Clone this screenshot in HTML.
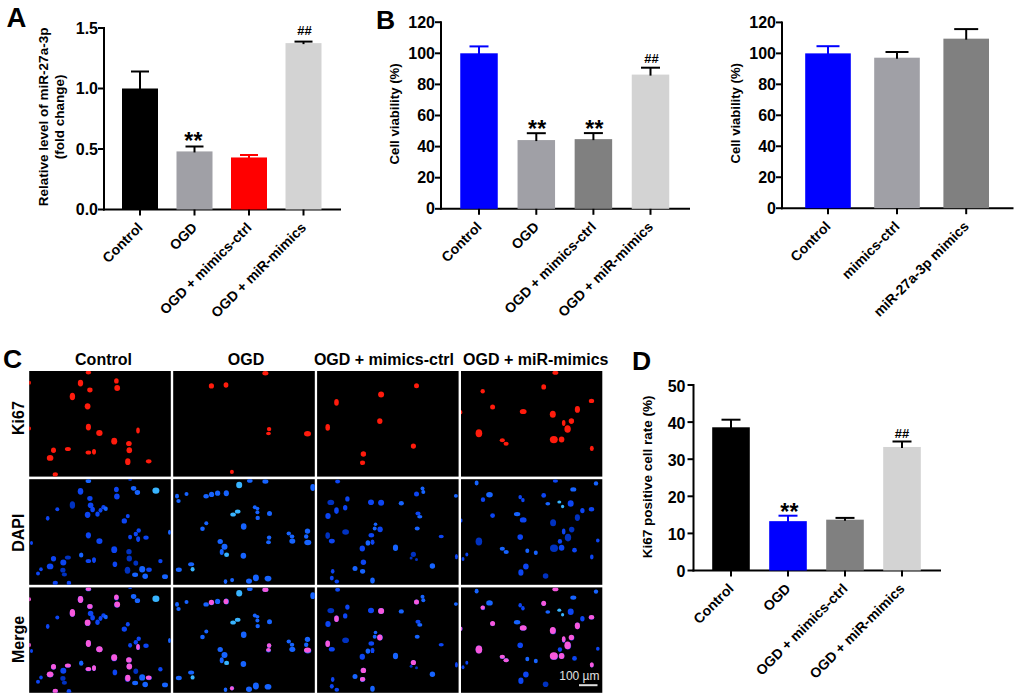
<!DOCTYPE html><html><head><meta charset="utf-8"><style>html,body{margin:0;padding:0;background:#fff;width:1020px;height:699px;overflow:hidden}</style></head><body><svg width="1020" height="699" viewBox="0 0 1020 699" style="position:absolute;left:0;top:0">
<g font-family='"Liberation Sans", sans-serif'>
<text x="6.50" y="27.00" font-size="27.5" font-weight="bold" text-anchor="start" fill="#000" >A</text>
<text x="376.00" y="29.00" font-size="26.5" font-weight="bold" text-anchor="start" fill="#000" >B</text>
<text x="3.00" y="367.50" font-size="26.5" font-weight="bold" text-anchor="start" fill="#000" >C</text>
<text x="632.00" y="369.50" font-size="26.5" font-weight="bold" text-anchor="start" fill="#000" >D</text>
<line x1="104" y1="27" x2="104" y2="210.5" stroke="#000" stroke-width="2"/>
<line x1="103" y1="209.5" x2="341" y2="209.5" stroke="#000" stroke-width="2"/>
<line x1="98" y1="209.50" x2="104" y2="209.50" stroke="#000" stroke-width="2"/>
<text x="98.00" y="215.00" font-size="16" font-weight="bold" text-anchor="end" fill="#000" >0.0</text>
<line x1="98" y1="149.00" x2="104" y2="149.00" stroke="#000" stroke-width="2"/>
<text x="98.00" y="154.50" font-size="16" font-weight="bold" text-anchor="end" fill="#000" >0.5</text>
<line x1="98" y1="88.50" x2="104" y2="88.50" stroke="#000" stroke-width="2"/>
<text x="98.00" y="94.00" font-size="16" font-weight="bold" text-anchor="end" fill="#000" >1.0</text>
<line x1="98" y1="28.00" x2="104" y2="28.00" stroke="#000" stroke-width="2"/>
<text x="98.00" y="33.50" font-size="16" font-weight="bold" text-anchor="end" fill="#000" >1.5</text>
<rect x="122.00" y="88.50" width="36.00" height="121.00" fill="#000"/>
<line x1="140.00" y1="209.5" x2="140.00" y2="215.5" stroke="#000" stroke-width="2"/>
<line x1="140.00" y1="89.50" x2="140.00" y2="71.50" stroke="#000" stroke-width="2"/>
<line x1="131.00" y1="71.50" x2="149.00" y2="71.50" stroke="#000" stroke-width="2"/>
<rect x="176.50" y="151.42" width="36.00" height="58.08" fill="#a0a0a6"/>
<line x1="194.50" y1="209.5" x2="194.50" y2="215.5" stroke="#000" stroke-width="2"/>
<line x1="194.50" y1="152.42" x2="194.50" y2="146.50" stroke="#000" stroke-width="2"/>
<line x1="185.50" y1="146.50" x2="203.50" y2="146.50" stroke="#000" stroke-width="2"/>
<text x="193.50" y="149.20" font-size="23" font-weight="bold" text-anchor="middle" letter-spacing="0.3">**</text>
<rect x="231.00" y="157.47" width="36.00" height="52.03" fill="#ff0000"/>
<line x1="249.00" y1="209.5" x2="249.00" y2="215.5" stroke="#000" stroke-width="2"/>
<line x1="249.00" y1="158.47" x2="249.00" y2="155.00" stroke="#ff0000" stroke-width="2"/>
<line x1="240.00" y1="155.00" x2="258.00" y2="155.00" stroke="#ff0000" stroke-width="2"/>
<rect x="285.50" y="43.12" width="36.00" height="166.38" fill="#d3d3d3"/>
<line x1="303.50" y1="209.5" x2="303.50" y2="215.5" stroke="#000" stroke-width="2"/>
<line x1="303.50" y1="44.12" x2="303.50" y2="41.60" stroke="#000" stroke-width="2"/>
<line x1="294.50" y1="41.60" x2="312.50" y2="41.60" stroke="#000" stroke-width="2"/>
<text x="304.50" y="34.70" font-size="13" font-weight="bold" text-anchor="middle">##</text>
<text transform="translate(47.7,116.9) rotate(-90)" font-size="13.5" font-weight="bold" text-anchor="middle">Relative level of miR-27a-3p</text>
<text transform="translate(63.8,116.9) rotate(-90)" font-size="13.5" font-weight="bold" text-anchor="middle">(fold change)</text>
<text transform="translate(143.50,228.50) rotate(-45)" font-size="14" font-weight="bold" text-anchor="end">Control</text>
<text transform="translate(198.00,228.50) rotate(-45)" font-size="14" font-weight="bold" text-anchor="end">OGD</text>
<text transform="translate(252.50,228.50) rotate(-45)" font-size="14" font-weight="bold" text-anchor="end">OGD + mimics-ctrl</text>
<text transform="translate(307.00,228.50) rotate(-45)" font-size="14" font-weight="bold" text-anchor="end">OGD + miR-mimics</text>
<line x1="441" y1="21.2" x2="441" y2="209.8" stroke="#000" stroke-width="2"/>
<line x1="440" y1="208.8" x2="690" y2="208.8" stroke="#000" stroke-width="2"/>
<line x1="435" y1="208.80" x2="441" y2="208.80" stroke="#000" stroke-width="2"/>
<text x="435.00" y="214.30" font-size="16" font-weight="bold" text-anchor="end" fill="#000" >0</text>
<line x1="435" y1="177.70" x2="441" y2="177.70" stroke="#000" stroke-width="2"/>
<text x="435.00" y="183.20" font-size="16" font-weight="bold" text-anchor="end" fill="#000" >20</text>
<line x1="435" y1="146.60" x2="441" y2="146.60" stroke="#000" stroke-width="2"/>
<text x="435.00" y="152.10" font-size="16" font-weight="bold" text-anchor="end" fill="#000" >40</text>
<line x1="435" y1="115.50" x2="441" y2="115.50" stroke="#000" stroke-width="2"/>
<text x="435.00" y="121.00" font-size="16" font-weight="bold" text-anchor="end" fill="#000" >60</text>
<line x1="435" y1="84.40" x2="441" y2="84.40" stroke="#000" stroke-width="2"/>
<text x="435.00" y="89.90" font-size="16" font-weight="bold" text-anchor="end" fill="#000" >80</text>
<line x1="435" y1="53.30" x2="441" y2="53.30" stroke="#000" stroke-width="2"/>
<text x="435.00" y="58.80" font-size="16" font-weight="bold" text-anchor="end" fill="#000" >100</text>
<line x1="435" y1="22.20" x2="441" y2="22.20" stroke="#000" stroke-width="2"/>
<text x="435.00" y="27.70" font-size="16" font-weight="bold" text-anchor="end" fill="#000" >120</text>
<rect x="460.25" y="53.30" width="37.50" height="155.50" fill="#0000ff"/>
<line x1="479.00" y1="208.8" x2="479.00" y2="214.8" stroke="#000" stroke-width="2"/>
<line x1="479.00" y1="54.30" x2="479.00" y2="46.40" stroke="#0000ff" stroke-width="2"/>
<line x1="469.50" y1="46.40" x2="488.50" y2="46.40" stroke="#0000ff" stroke-width="2"/>
<rect x="517.55" y="140.07" width="37.50" height="68.73" fill="#a0a0a6"/>
<line x1="536.30" y1="208.8" x2="536.30" y2="214.8" stroke="#000" stroke-width="2"/>
<line x1="536.30" y1="141.07" x2="536.30" y2="133.20" stroke="#000" stroke-width="2"/>
<line x1="526.80" y1="133.20" x2="545.80" y2="133.20" stroke="#000" stroke-width="2"/>
<text x="537.20" y="137.10" font-size="23" font-weight="bold" text-anchor="middle" letter-spacing="0.3">**</text>
<rect x="574.65" y="139.14" width="37.50" height="69.66" fill="#808080"/>
<line x1="593.40" y1="208.8" x2="593.40" y2="214.8" stroke="#000" stroke-width="2"/>
<line x1="593.40" y1="140.14" x2="593.40" y2="133.10" stroke="#000" stroke-width="2"/>
<line x1="583.90" y1="133.10" x2="602.90" y2="133.10" stroke="#000" stroke-width="2"/>
<text x="594.50" y="137.30" font-size="23" font-weight="bold" text-anchor="middle" letter-spacing="0.3">**</text>
<rect x="631.75" y="74.60" width="37.50" height="134.20" fill="#d3d3d3"/>
<line x1="650.50" y1="208.8" x2="650.50" y2="214.8" stroke="#000" stroke-width="2"/>
<line x1="650.50" y1="75.60" x2="650.50" y2="67.70" stroke="#000" stroke-width="2"/>
<line x1="641.00" y1="67.70" x2="660.00" y2="67.70" stroke="#000" stroke-width="2"/>
<text x="651.50" y="62.80" font-size="13" font-weight="bold" text-anchor="middle">##</text>
<text transform="translate(398.5,113.9) rotate(-90)" font-size="13.2" font-weight="bold" text-anchor="middle">Cell viability (%)</text>
<text transform="translate(482.50,227.80) rotate(-45)" font-size="14" font-weight="bold" text-anchor="end">Control</text>
<text transform="translate(539.80,227.80) rotate(-45)" font-size="14" font-weight="bold" text-anchor="end">OGD</text>
<text transform="translate(596.90,227.80) rotate(-45)" font-size="14" font-weight="bold" text-anchor="end">OGD + mimics-ctrl</text>
<text transform="translate(654.00,227.80) rotate(-45)" font-size="14" font-weight="bold" text-anchor="end">OGD + miR-mimics</text>
<line x1="782" y1="21.4" x2="782" y2="209.2" stroke="#000" stroke-width="2"/>
<line x1="781" y1="208.2" x2="1013.5" y2="208.2" stroke="#000" stroke-width="2"/>
<line x1="776" y1="208.20" x2="782" y2="208.20" stroke="#000" stroke-width="2"/>
<text x="776.00" y="213.70" font-size="16" font-weight="bold" text-anchor="end" fill="#000" >0</text>
<line x1="776" y1="177.23" x2="782" y2="177.23" stroke="#000" stroke-width="2"/>
<text x="776.00" y="182.73" font-size="16" font-weight="bold" text-anchor="end" fill="#000" >20</text>
<line x1="776" y1="146.27" x2="782" y2="146.27" stroke="#000" stroke-width="2"/>
<text x="776.00" y="151.77" font-size="16" font-weight="bold" text-anchor="end" fill="#000" >40</text>
<line x1="776" y1="115.30" x2="782" y2="115.30" stroke="#000" stroke-width="2"/>
<text x="776.00" y="120.80" font-size="16" font-weight="bold" text-anchor="end" fill="#000" >60</text>
<line x1="776" y1="84.33" x2="782" y2="84.33" stroke="#000" stroke-width="2"/>
<text x="776.00" y="89.83" font-size="16" font-weight="bold" text-anchor="end" fill="#000" >80</text>
<line x1="776" y1="53.37" x2="782" y2="53.37" stroke="#000" stroke-width="2"/>
<text x="776.00" y="58.87" font-size="16" font-weight="bold" text-anchor="end" fill="#000" >100</text>
<line x1="776" y1="22.40" x2="782" y2="22.40" stroke="#000" stroke-width="2"/>
<text x="776.00" y="27.90" font-size="16" font-weight="bold" text-anchor="end" fill="#000" >120</text>
<rect x="805.20" y="53.37" width="45.60" height="154.83" fill="#0000ff"/>
<line x1="828.00" y1="208.2" x2="828.00" y2="214.2" stroke="#000" stroke-width="2"/>
<line x1="828.00" y1="54.37" x2="828.00" y2="46.20" stroke="#0000ff" stroke-width="2"/>
<line x1="816.50" y1="46.20" x2="839.50" y2="46.20" stroke="#0000ff" stroke-width="2"/>
<rect x="874.20" y="57.70" width="45.60" height="150.50" fill="#a0a0a6"/>
<line x1="897.00" y1="208.2" x2="897.00" y2="214.2" stroke="#000" stroke-width="2"/>
<line x1="897.00" y1="58.70" x2="897.00" y2="52.00" stroke="#000" stroke-width="2"/>
<line x1="885.50" y1="52.00" x2="908.50" y2="52.00" stroke="#000" stroke-width="2"/>
<rect x="943.40" y="38.66" width="45.60" height="169.54" fill="#808080"/>
<line x1="966.20" y1="208.2" x2="966.20" y2="214.2" stroke="#000" stroke-width="2"/>
<line x1="966.20" y1="39.66" x2="966.20" y2="29.10" stroke="#000" stroke-width="2"/>
<line x1="954.20" y1="29.10" x2="978.20" y2="29.10" stroke="#000" stroke-width="2"/>
<text transform="translate(739.5,113.3) rotate(-90)" font-size="13.1" font-weight="bold" text-anchor="middle">Cell viability (%)</text>
<text transform="translate(831.50,227.20) rotate(-45)" font-size="14" font-weight="bold" text-anchor="end">Control</text>
<text transform="translate(900.50,227.20) rotate(-45)" font-size="14" font-weight="bold" text-anchor="end">mimics-ctrl</text>
<text transform="translate(969.70,227.20) rotate(-45)" font-size="14" font-weight="bold" text-anchor="end">miR-27a-3p mimics</text>
<line x1="693.5" y1="384" x2="693.5" y2="571.5" stroke="#000" stroke-width="2"/>
<line x1="692.5" y1="570.5" x2="941" y2="570.5" stroke="#000" stroke-width="2"/>
<line x1="687.5" y1="570.50" x2="693.5" y2="570.50" stroke="#000" stroke-width="2"/>
<text x="685.50" y="577.00" font-size="16" font-weight="bold" text-anchor="end" fill="#000" >0</text>
<line x1="687.5" y1="533.40" x2="693.5" y2="533.40" stroke="#000" stroke-width="2"/>
<text x="685.50" y="539.90" font-size="16" font-weight="bold" text-anchor="end" fill="#000" >10</text>
<line x1="687.5" y1="496.30" x2="693.5" y2="496.30" stroke="#000" stroke-width="2"/>
<text x="685.50" y="502.80" font-size="16" font-weight="bold" text-anchor="end" fill="#000" >20</text>
<line x1="687.5" y1="459.20" x2="693.5" y2="459.20" stroke="#000" stroke-width="2"/>
<text x="685.50" y="465.70" font-size="16" font-weight="bold" text-anchor="end" fill="#000" >30</text>
<line x1="687.5" y1="422.10" x2="693.5" y2="422.10" stroke="#000" stroke-width="2"/>
<text x="685.50" y="428.60" font-size="16" font-weight="bold" text-anchor="end" fill="#000" >40</text>
<line x1="687.5" y1="385.00" x2="693.5" y2="385.00" stroke="#000" stroke-width="2"/>
<text x="685.50" y="391.50" font-size="16" font-weight="bold" text-anchor="end" fill="#000" >50</text>
<rect x="712.20" y="427.29" width="37.60" height="143.21" fill="#000"/>
<line x1="731.00" y1="570.5" x2="731.00" y2="576.5" stroke="#000" stroke-width="2"/>
<line x1="731.00" y1="428.29" x2="731.00" y2="419.70" stroke="#000" stroke-width="2"/>
<line x1="721.50" y1="419.70" x2="740.50" y2="419.70" stroke="#000" stroke-width="2"/>
<rect x="769.20" y="521.16" width="37.60" height="49.34" fill="#0000ff"/>
<line x1="788.00" y1="570.5" x2="788.00" y2="576.5" stroke="#000" stroke-width="2"/>
<line x1="788.00" y1="522.16" x2="788.00" y2="515.70" stroke="#0000ff" stroke-width="2"/>
<line x1="778.50" y1="515.70" x2="797.50" y2="515.70" stroke="#0000ff" stroke-width="2"/>
<text x="789.50" y="519.50" font-size="23" font-weight="bold" text-anchor="middle" letter-spacing="0.3">**</text>
<rect x="826.20" y="519.67" width="37.60" height="50.83" fill="#808080"/>
<line x1="845.00" y1="570.5" x2="845.00" y2="576.5" stroke="#000" stroke-width="2"/>
<line x1="845.00" y1="520.67" x2="845.00" y2="517.90" stroke="#000" stroke-width="2"/>
<line x1="835.50" y1="517.90" x2="854.50" y2="517.90" stroke="#000" stroke-width="2"/>
<rect x="883.20" y="446.96" width="37.60" height="123.54" fill="#d3d3d3"/>
<line x1="902.00" y1="570.5" x2="902.00" y2="576.5" stroke="#000" stroke-width="2"/>
<line x1="902.00" y1="447.96" x2="902.00" y2="441.50" stroke="#000" stroke-width="2"/>
<line x1="892.50" y1="441.50" x2="911.50" y2="441.50" stroke="#000" stroke-width="2"/>
<text x="902.00" y="437.50" font-size="13" font-weight="bold" text-anchor="middle">##</text>
<text transform="translate(652,476.9) rotate(-90)" font-size="13.5" font-weight="bold" text-anchor="middle">Ki67 positive cell rate (%)</text>
<text transform="translate(734.50,589.50) rotate(-45)" font-size="14" font-weight="bold" text-anchor="end">Control</text>
<text transform="translate(791.50,589.50) rotate(-45)" font-size="14" font-weight="bold" text-anchor="end">OGD</text>
<text transform="translate(848.50,589.50) rotate(-45)" font-size="14" font-weight="bold" text-anchor="end">OGD + mimics-ctrl</text>
<text transform="translate(905.50,589.50) rotate(-45)" font-size="14" font-weight="bold" text-anchor="end">OGD + miR-mimics</text>
<defs><filter id="bl" x="-20%" y="-20%" width="140%" height="140%"><feGaussianBlur stdDeviation="0.45"/></filter>
<clipPath id="c00"><rect x="29.2" y="371" width="141.60" height="105.60"/></clipPath>
<clipPath id="c01"><rect x="29.2" y="479.2" width="141.60" height="105.60"/></clipPath>
<clipPath id="c02"><rect x="29.2" y="587.4" width="141.60" height="105.40"/></clipPath>
<clipPath id="c10"><rect x="173.2" y="371" width="141.60" height="105.60"/></clipPath>
<clipPath id="c11"><rect x="173.2" y="479.2" width="141.60" height="105.60"/></clipPath>
<clipPath id="c12"><rect x="173.2" y="587.4" width="141.60" height="105.40"/></clipPath>
<clipPath id="c20"><rect x="317.1" y="371" width="141.50" height="105.60"/></clipPath>
<clipPath id="c21"><rect x="317.1" y="479.2" width="141.50" height="105.60"/></clipPath>
<clipPath id="c22"><rect x="317.1" y="587.4" width="141.50" height="105.40"/></clipPath>
<clipPath id="c30"><rect x="461" y="371" width="141.30" height="105.60"/></clipPath>
<clipPath id="c31"><rect x="461" y="479.2" width="141.30" height="105.60"/></clipPath>
<clipPath id="c32"><rect x="461" y="587.4" width="141.30" height="105.40"/></clipPath>
</defs>
<rect x="29.2" y="371" width="141.60" height="105.60" fill="#000"/>
<g clip-path="url(#c00)"><g filter="url(#bl)">
<ellipse cx="88.4" cy="372.5" rx="2.7" ry="2" fill="#ff1a0a"/>
<ellipse cx="80.5" cy="383.1" rx="2.7" ry="3.4" fill="#ff1a0a"/>
<ellipse cx="89.9" cy="390.0" rx="2.7" ry="2.4" fill="#ff1a0a"/>
<ellipse cx="72.4" cy="396.5" rx="2.7" ry="3.8" fill="#ff1a0a"/>
<ellipse cx="87.6" cy="406.3" rx="2.9" ry="3.1" fill="#ff1a0a"/>
<ellipse cx="116.4" cy="380.9" rx="2.3" ry="2.7" fill="#ff1a0a"/>
<ellipse cx="117.2" cy="388.0" rx="2.9" ry="3" fill="#ff1a0a"/>
<ellipse cx="88.4" cy="427.1" rx="2.6" ry="3.4" fill="#ff1a0a"/>
<ellipse cx="99.4" cy="432.9" rx="3.2" ry="3" fill="#ff1a0a"/>
<ellipse cx="114.2" cy="441.2" rx="3" ry="3.4" fill="#ff1a0a"/>
<ellipse cx="138.0" cy="430.5" rx="1.8" ry="2.9" fill="#ff1a0a"/>
<ellipse cx="128.9" cy="443.5" rx="2.8" ry="2.6" fill="#ff1a0a"/>
<ellipse cx="129.3" cy="450.2" rx="2.8" ry="3" fill="#ff1a0a"/>
<ellipse cx="127.8" cy="461.7" rx="2.7" ry="3.4" fill="#ff1a0a"/>
<ellipse cx="148.7" cy="461.3" rx="2.8" ry="2.1" fill="#ff1a0a"/>
<ellipse cx="53.5" cy="450.3" rx="2.5" ry="2.7" fill="#ff1a0a"/>
<ellipse cx="67.9" cy="449.1" rx="3" ry="2" fill="#ff1a0a"/>
<ellipse cx="50.1" cy="457.9" rx="3.3" ry="2.9" fill="#ff1a0a"/>
<ellipse cx="88.4" cy="452.6" rx="2.8" ry="2" fill="#ff1a0a"/>
<ellipse cx="94.0" cy="451.7" rx="2" ry="2.8" fill="#ff1a0a"/>
<ellipse cx="55.3" cy="474.6" rx="2.6" ry="2.3" fill="#ff1a0a"/>
<ellipse cx="29.7" cy="382.8" rx="1.2" ry="2" fill="#ff1a0a"/>
<ellipse cx="29.7" cy="428.6" rx="1.2" ry="2" fill="#ff1a0a"/>
</g></g>
<rect x="29.2" y="479.2" width="141.60" height="105.60" fill="#000"/>
<g clip-path="url(#c01)"><g filter="url(#bl)">
<ellipse cx="88.4" cy="481.0" rx="2.8" ry="2" fill="#1664ff"/>
<ellipse cx="80.5" cy="491.3" rx="2.8" ry="3.4" fill="#0a44f2"/>
<ellipse cx="89.9" cy="498.5" rx="2.7" ry="2.4" fill="#0a44f2"/>
<ellipse cx="72.4" cy="505.0" rx="2.7" ry="3.8" fill="#0630c0"/>
<ellipse cx="90.6" cy="505.3" rx="2.8" ry="2.8" fill="#0a44f2"/>
<ellipse cx="92.6" cy="509.5" rx="2.3" ry="2.7" fill="#0a44f2"/>
<ellipse cx="87.6" cy="514.8" rx="2.8" ry="3.1" fill="#0a44f2"/>
<ellipse cx="97.5" cy="514.1" rx="2.2" ry="2.7" fill="#0a44f2"/>
<ellipse cx="100.5" cy="510.3" rx="2" ry="2.4" fill="#0a44f2"/>
<ellipse cx="103.5" cy="507.3" rx="2.2" ry="2.2" fill="#0a44f2"/>
<ellipse cx="105.8" cy="508.8" rx="2" ry="2.2" fill="#1664ff"/>
<ellipse cx="57.3" cy="509.2" rx="2" ry="2" fill="#0a44f2"/>
<ellipse cx="47.7" cy="518.3" rx="1.8" ry="2.4" fill="#0a44f2"/>
<ellipse cx="116.4" cy="489.5" rx="2.4" ry="2.8" fill="#0a44f2"/>
<ellipse cx="116.9" cy="496.6" rx="2.8" ry="3" fill="#0a44f2"/>
<ellipse cx="133.6" cy="488.3" rx="2.7" ry="2.4" fill="#1664ff"/>
<ellipse cx="137.4" cy="492.5" rx="2.7" ry="2.4" fill="#1664ff"/>
<ellipse cx="155.9" cy="490.6" rx="3.5" ry="3.2" fill="#38b4ff"/>
<ellipse cx="127.8" cy="516.1" rx="2" ry="2.2" fill="#0a44f2"/>
<ellipse cx="124.3" cy="520.9" rx="2.7" ry="2.7" fill="#0a44f2"/>
<ellipse cx="88.4" cy="535.3" rx="2.6" ry="3.1" fill="#0a44f2"/>
<ellipse cx="99.4" cy="541.1" rx="3.1" ry="2.9" fill="#0a44f2"/>
<ellipse cx="138.7" cy="530.5" rx="2.2" ry="2.2" fill="#0a44f2"/>
<ellipse cx="135.8" cy="534.1" rx="2.2" ry="2.4" fill="#0a44f2"/>
<ellipse cx="130.1" cy="537.1" rx="2" ry="2.4" fill="#0a44f2"/>
<ellipse cx="138.1" cy="539.1" rx="2" ry="2.8" fill="#0a44f2"/>
<ellipse cx="146.0" cy="537.6" rx="2.7" ry="2.2" fill="#0a44f2"/>
<ellipse cx="169.5" cy="532.3" rx="1.5" ry="2.5" fill="#1664ff"/>
<ellipse cx="31.5" cy="542.9" rx="1.5" ry="2" fill="#0a44f2"/>
<ellipse cx="114.2" cy="549.7" rx="3" ry="3.4" fill="#0a44f2"/>
<ellipse cx="129.0" cy="551.7" rx="2.7" ry="2.6" fill="#0630c0"/>
<ellipse cx="129.3" cy="558.4" rx="2.7" ry="3" fill="#0630c0"/>
<ellipse cx="81.2" cy="555.0" rx="2.2" ry="2.6" fill="#1664ff"/>
<ellipse cx="53.5" cy="558.8" rx="2.6" ry="2.7" fill="#0a44f2"/>
<ellipse cx="67.9" cy="557.6" rx="3" ry="2" fill="#0630c0"/>
<ellipse cx="63.3" cy="562.6" rx="3" ry="3" fill="#0a44f2"/>
<ellipse cx="88.4" cy="561.1" rx="2.8" ry="2" fill="#0a44f2"/>
<ellipse cx="94.0" cy="560.1" rx="2" ry="2.8" fill="#0a44f2"/>
<ellipse cx="114.9" cy="564.2" rx="2.3" ry="2.8" fill="#0a44f2"/>
<ellipse cx="135.8" cy="563.1" rx="2.4" ry="2.7" fill="#0630c0"/>
<ellipse cx="160.4" cy="561.1" rx="2.2" ry="2.2" fill="#0a44f2"/>
<ellipse cx="50.1" cy="566.4" rx="3.3" ry="2.9" fill="#0a44f2"/>
<ellipse cx="41.0" cy="569.2" rx="1.8" ry="2" fill="#0a44f2"/>
<ellipse cx="38.0" cy="573.6" rx="2" ry="2" fill="#0a44f2"/>
<ellipse cx="62.9" cy="570.2" rx="2.6" ry="2.4" fill="#0630c0"/>
<ellipse cx="64.4" cy="574.5" rx="2.6" ry="2" fill="#0630c0"/>
<ellipse cx="127.5" cy="570.2" rx="2.8" ry="3.5" fill="#0630c0"/>
<ellipse cx="142.2" cy="569.2" rx="3" ry="3.2" fill="#1664ff"/>
<ellipse cx="149.0" cy="569.8" rx="2.8" ry="2.2" fill="#0a44f2"/>
<ellipse cx="135.1" cy="574.8" rx="3" ry="2.2" fill="#1664ff"/>
<ellipse cx="145.2" cy="576.3" rx="2.8" ry="2.7" fill="#1664ff"/>
<ellipse cx="165.0" cy="576.7" rx="3" ry="2.4" fill="#1664ff"/>
<ellipse cx="55.3" cy="583.1" rx="2.6" ry="2.3" fill="#0a44f2"/>
<ellipse cx="68.9" cy="583.1" rx="2.3" ry="2.3" fill="#0a44f2"/>
<ellipse cx="130.1" cy="479.7" rx="2" ry="1" fill="#0a44f2"/>
</g></g>
<rect x="29.2" y="587.4" width="141.60" height="105.40" fill="#000"/>
<g clip-path="url(#c02)"><g filter="url(#bl)">
<ellipse cx="88.4" cy="589.2" rx="2.8" ry="2" fill="#1664ff"/>
<ellipse cx="80.5" cy="599.5" rx="2.8" ry="3.4" fill="#0a44f2"/>
<ellipse cx="89.9" cy="606.7" rx="2.7" ry="2.4" fill="#0a44f2"/>
<ellipse cx="72.4" cy="613.2" rx="2.7" ry="3.8" fill="#0630c0"/>
<ellipse cx="90.6" cy="613.5" rx="2.8" ry="2.8" fill="#0a44f2"/>
<ellipse cx="92.6" cy="617.7" rx="2.3" ry="2.7" fill="#0a44f2"/>
<ellipse cx="87.6" cy="623.0" rx="2.8" ry="3.1" fill="#0a44f2"/>
<ellipse cx="97.5" cy="622.3" rx="2.2" ry="2.7" fill="#0a44f2"/>
<ellipse cx="100.5" cy="618.5" rx="2" ry="2.4" fill="#0a44f2"/>
<ellipse cx="103.5" cy="615.5" rx="2.2" ry="2.2" fill="#0a44f2"/>
<ellipse cx="105.8" cy="617.0" rx="2" ry="2.2" fill="#1664ff"/>
<ellipse cx="57.3" cy="617.4" rx="2" ry="2" fill="#0a44f2"/>
<ellipse cx="47.7" cy="626.5" rx="1.8" ry="2.4" fill="#0a44f2"/>
<ellipse cx="116.4" cy="597.7" rx="2.4" ry="2.8" fill="#0a44f2"/>
<ellipse cx="116.9" cy="604.8" rx="2.8" ry="3" fill="#0a44f2"/>
<ellipse cx="133.6" cy="596.5" rx="2.7" ry="2.4" fill="#1664ff"/>
<ellipse cx="137.4" cy="600.7" rx="2.7" ry="2.4" fill="#1664ff"/>
<ellipse cx="155.9" cy="598.8" rx="3.5" ry="3.2" fill="#38b4ff"/>
<ellipse cx="127.8" cy="624.3" rx="2" ry="2.2" fill="#0a44f2"/>
<ellipse cx="124.3" cy="629.1" rx="2.7" ry="2.7" fill="#0a44f2"/>
<ellipse cx="88.4" cy="643.5" rx="2.6" ry="3.1" fill="#0a44f2"/>
<ellipse cx="99.4" cy="649.3" rx="3.1" ry="2.9" fill="#0a44f2"/>
<ellipse cx="138.7" cy="638.7" rx="2.2" ry="2.2" fill="#0a44f2"/>
<ellipse cx="135.8" cy="642.3" rx="2.2" ry="2.4" fill="#0a44f2"/>
<ellipse cx="130.1" cy="645.3" rx="2" ry="2.4" fill="#0a44f2"/>
<ellipse cx="138.1" cy="647.3" rx="2" ry="2.8" fill="#0a44f2"/>
<ellipse cx="146.0" cy="645.8" rx="2.7" ry="2.2" fill="#0a44f2"/>
<ellipse cx="169.5" cy="640.5" rx="1.5" ry="2.5" fill="#1664ff"/>
<ellipse cx="31.5" cy="651.1" rx="1.5" ry="2" fill="#0a44f2"/>
<ellipse cx="114.2" cy="657.9" rx="3" ry="3.4" fill="#0a44f2"/>
<ellipse cx="129.0" cy="659.9" rx="2.7" ry="2.6" fill="#0630c0"/>
<ellipse cx="129.3" cy="666.6" rx="2.7" ry="3" fill="#0630c0"/>
<ellipse cx="81.2" cy="663.2" rx="2.2" ry="2.6" fill="#1664ff"/>
<ellipse cx="53.5" cy="667.0" rx="2.6" ry="2.7" fill="#0a44f2"/>
<ellipse cx="67.9" cy="665.8" rx="3" ry="2" fill="#0630c0"/>
<ellipse cx="63.3" cy="670.8" rx="3" ry="3" fill="#0a44f2"/>
<ellipse cx="88.4" cy="669.3" rx="2.8" ry="2" fill="#0a44f2"/>
<ellipse cx="94.0" cy="668.3" rx="2" ry="2.8" fill="#0a44f2"/>
<ellipse cx="114.9" cy="672.4" rx="2.3" ry="2.8" fill="#0a44f2"/>
<ellipse cx="135.8" cy="671.3" rx="2.4" ry="2.7" fill="#0630c0"/>
<ellipse cx="160.4" cy="669.3" rx="2.2" ry="2.2" fill="#0a44f2"/>
<ellipse cx="50.1" cy="674.6" rx="3.3" ry="2.9" fill="#0a44f2"/>
<ellipse cx="41.0" cy="677.4" rx="1.8" ry="2" fill="#0a44f2"/>
<ellipse cx="38.0" cy="681.8" rx="2" ry="2" fill="#0a44f2"/>
<ellipse cx="62.9" cy="678.4" rx="2.6" ry="2.4" fill="#0630c0"/>
<ellipse cx="64.4" cy="682.7" rx="2.6" ry="2" fill="#0630c0"/>
<ellipse cx="127.5" cy="678.4" rx="2.8" ry="3.5" fill="#0630c0"/>
<ellipse cx="142.2" cy="677.4" rx="3" ry="3.2" fill="#1664ff"/>
<ellipse cx="149.0" cy="678.0" rx="2.8" ry="2.2" fill="#0a44f2"/>
<ellipse cx="135.1" cy="683.0" rx="3" ry="2.2" fill="#1664ff"/>
<ellipse cx="145.2" cy="684.5" rx="2.8" ry="2.7" fill="#1664ff"/>
<ellipse cx="165.0" cy="684.9" rx="3" ry="2.4" fill="#1664ff"/>
<ellipse cx="55.3" cy="691.3" rx="2.6" ry="2.3" fill="#0a44f2"/>
<ellipse cx="68.9" cy="691.3" rx="2.3" ry="2.3" fill="#0a44f2"/>
<ellipse cx="130.1" cy="587.9" rx="2" ry="1" fill="#0a44f2"/>
<ellipse cx="88.4" cy="588.9" rx="2.7" ry="2" fill="#f858dc"/>
<ellipse cx="80.5" cy="599.5" rx="2.7" ry="3.4" fill="#f858dc"/>
<ellipse cx="89.9" cy="606.4" rx="2.7" ry="2.4" fill="#f858dc"/>
<ellipse cx="72.4" cy="612.9" rx="2.7" ry="3.8" fill="#f858dc"/>
<ellipse cx="87.6" cy="622.7" rx="2.9" ry="3.1" fill="#f858dc"/>
<ellipse cx="116.4" cy="597.3" rx="2.3" ry="2.7" fill="#f858dc"/>
<ellipse cx="117.2" cy="604.4" rx="2.9" ry="3" fill="#f858dc"/>
<ellipse cx="88.4" cy="643.5" rx="2.6" ry="3.4" fill="#f858dc"/>
<ellipse cx="99.4" cy="649.3" rx="3.2" ry="3" fill="#f858dc"/>
<ellipse cx="114.2" cy="657.6" rx="3" ry="3.4" fill="#f858dc"/>
<ellipse cx="138.0" cy="646.9" rx="1.8" ry="2.9" fill="#f858dc"/>
<ellipse cx="128.9" cy="659.9" rx="2.8" ry="2.6" fill="#f858dc"/>
<ellipse cx="129.3" cy="666.6" rx="2.8" ry="3" fill="#f858dc"/>
<ellipse cx="127.8" cy="678.1" rx="2.7" ry="3.4" fill="#f858dc"/>
<ellipse cx="148.7" cy="677.7" rx="2.8" ry="2.1" fill="#f858dc"/>
<ellipse cx="53.5" cy="666.7" rx="2.5" ry="2.7" fill="#f858dc"/>
<ellipse cx="67.9" cy="665.5" rx="3" ry="2" fill="#f858dc"/>
<ellipse cx="50.1" cy="674.3" rx="3.3" ry="2.9" fill="#f858dc"/>
<ellipse cx="88.4" cy="669.0" rx="2.8" ry="2" fill="#f858dc"/>
<ellipse cx="94.0" cy="668.1" rx="2" ry="2.8" fill="#f858dc"/>
<ellipse cx="55.3" cy="691.0" rx="2.6" ry="2.3" fill="#f858dc"/>
<ellipse cx="29.7" cy="599.2" rx="1.2" ry="2" fill="#f858dc"/>
<ellipse cx="29.7" cy="645.0" rx="1.2" ry="2" fill="#f858dc"/>
</g></g>
<rect x="173.2" y="371" width="141.60" height="105.60" fill="#000"/>
<g clip-path="url(#c10)"><g filter="url(#bl)">
<ellipse cx="265.4" cy="373.3" rx="3" ry="2.2" fill="#ff1a0a"/>
<ellipse cx="211.4" cy="385.9" rx="2.6" ry="2.6" fill="#ff1a0a"/>
<ellipse cx="226.0" cy="385.0" rx="2.4" ry="2.7" fill="#ff1a0a"/>
<ellipse cx="269.1" cy="429.1" rx="2.2" ry="2.2" fill="#ff1a0a"/>
<ellipse cx="268.5" cy="433.5" rx="2.4" ry="1.8" fill="#ff1a0a"/>
<ellipse cx="307.5" cy="433.7" rx="3.5" ry="2.7" fill="#ff1a0a"/>
<ellipse cx="231.9" cy="471.9" rx="2" ry="2.1" fill="#ff1a0a"/>
</g></g>
<rect x="173.2" y="479.2" width="141.60" height="105.60" fill="#000"/>
<g clip-path="url(#c11)"><g filter="url(#bl)">
<ellipse cx="239.2" cy="485.0" rx="3" ry="3.2" fill="#38b4ff"/>
<ellipse cx="249.8" cy="480.7" rx="2.8" ry="2" fill="#1664ff"/>
<ellipse cx="265.4" cy="481.5" rx="3" ry="2.2" fill="#1664ff"/>
<ellipse cx="312.8" cy="487.5" rx="2.5" ry="3.4" fill="#1664ff"/>
<ellipse cx="177.0" cy="496.2" rx="2" ry="2.4" fill="#1664ff"/>
<ellipse cx="178.5" cy="500.9" rx="2.2" ry="2" fill="#1664ff"/>
<ellipse cx="186.5" cy="493.9" rx="2" ry="2" fill="#1664ff"/>
<ellipse cx="206.1" cy="496.2" rx="2.7" ry="2.2" fill="#1664ff"/>
<ellipse cx="211.6" cy="494.4" rx="2.6" ry="2.6" fill="#1664ff"/>
<ellipse cx="217.6" cy="493.2" rx="2.6" ry="2.6" fill="#1664ff"/>
<ellipse cx="226.3" cy="493.2" rx="2.6" ry="3" fill="#1664ff"/>
<ellipse cx="233.1" cy="514.4" rx="2.8" ry="2" fill="#38b4ff"/>
<ellipse cx="237.7" cy="511.5" rx="2.8" ry="2" fill="#38b4ff"/>
<ellipse cx="254.8" cy="507.3" rx="2" ry="2" fill="#1664ff"/>
<ellipse cx="257.4" cy="508.5" rx="2" ry="1.8" fill="#1664ff"/>
<ellipse cx="257.4" cy="512.3" rx="2" ry="2" fill="#1664ff"/>
<ellipse cx="257.7" cy="517.9" rx="2.2" ry="2.2" fill="#1664ff"/>
<ellipse cx="269.5" cy="513.6" rx="2.5" ry="2.5" fill="#1664ff"/>
<ellipse cx="206.3" cy="523.2" rx="2" ry="2" fill="#1664ff"/>
<ellipse cx="202.5" cy="528.8" rx="2.3" ry="2.3" fill="#1664ff"/>
<ellipse cx="243.7" cy="526.5" rx="2.8" ry="3.3" fill="#1664ff"/>
<ellipse cx="220.2" cy="541.4" rx="2.7" ry="2.5" fill="#1664ff"/>
<ellipse cx="224.5" cy="546.7" rx="3" ry="3" fill="#1664ff"/>
<ellipse cx="221.7" cy="552.0" rx="2" ry="3" fill="#1664ff"/>
<ellipse cx="226.6" cy="554.7" rx="2.5" ry="2.2" fill="#38b4ff"/>
<ellipse cx="269.1" cy="537.6" rx="2.2" ry="2.2" fill="#1664ff"/>
<ellipse cx="268.5" cy="542.2" rx="2.4" ry="2" fill="#1664ff"/>
<ellipse cx="288.8" cy="533.4" rx="2.2" ry="2" fill="#1664ff"/>
<ellipse cx="292.0" cy="536.5" rx="2.3" ry="2" fill="#1664ff"/>
<ellipse cx="292.3" cy="541.1" rx="3" ry="2.6" fill="#1664ff"/>
<ellipse cx="307.5" cy="531.1" rx="2.7" ry="2.6" fill="#1664ff"/>
<ellipse cx="306.2" cy="536.5" rx="2.2" ry="2.2" fill="#1664ff"/>
<ellipse cx="307.8" cy="542.5" rx="3.5" ry="2.7" fill="#1664ff"/>
<ellipse cx="243.4" cy="555.8" rx="2.8" ry="3" fill="#1664ff"/>
<ellipse cx="191.1" cy="564.2" rx="3" ry="2" fill="#1664ff"/>
<ellipse cx="192.6" cy="569.2" rx="2" ry="2.2" fill="#38b4ff"/>
<ellipse cx="178.8" cy="569.8" rx="3" ry="2.2" fill="#1664ff"/>
<ellipse cx="225.5" cy="581.6" rx="1.8" ry="2.3" fill="#1664ff"/>
<ellipse cx="232.1" cy="580.1" rx="2" ry="2.1" fill="#1664ff"/>
<ellipse cx="249.0" cy="581.1" rx="3" ry="2.7" fill="#1664ff"/>
<ellipse cx="255.9" cy="577.8" rx="3" ry="3.4" fill="#1664ff"/>
<ellipse cx="268.0" cy="578.6" rx="3.4" ry="2.8" fill="#1664ff"/>
</g></g>
<rect x="173.2" y="587.4" width="141.60" height="105.40" fill="#000"/>
<g clip-path="url(#c12)"><g filter="url(#bl)">
<ellipse cx="239.2" cy="593.2" rx="3" ry="3.2" fill="#38b4ff"/>
<ellipse cx="249.8" cy="588.9" rx="2.8" ry="2" fill="#1664ff"/>
<ellipse cx="265.4" cy="589.7" rx="3" ry="2.2" fill="#1664ff"/>
<ellipse cx="312.8" cy="595.7" rx="2.5" ry="3.4" fill="#1664ff"/>
<ellipse cx="177.0" cy="604.4" rx="2" ry="2.4" fill="#1664ff"/>
<ellipse cx="178.5" cy="609.1" rx="2.2" ry="2" fill="#1664ff"/>
<ellipse cx="186.5" cy="602.1" rx="2" ry="2" fill="#1664ff"/>
<ellipse cx="206.1" cy="604.4" rx="2.7" ry="2.2" fill="#1664ff"/>
<ellipse cx="211.6" cy="602.6" rx="2.6" ry="2.6" fill="#1664ff"/>
<ellipse cx="217.6" cy="601.4" rx="2.6" ry="2.6" fill="#1664ff"/>
<ellipse cx="226.3" cy="601.4" rx="2.6" ry="3" fill="#1664ff"/>
<ellipse cx="233.1" cy="622.6" rx="2.8" ry="2" fill="#38b4ff"/>
<ellipse cx="237.7" cy="619.7" rx="2.8" ry="2" fill="#38b4ff"/>
<ellipse cx="254.8" cy="615.5" rx="2" ry="2" fill="#1664ff"/>
<ellipse cx="257.4" cy="616.7" rx="2" ry="1.8" fill="#1664ff"/>
<ellipse cx="257.4" cy="620.5" rx="2" ry="2" fill="#1664ff"/>
<ellipse cx="257.7" cy="626.1" rx="2.2" ry="2.2" fill="#1664ff"/>
<ellipse cx="269.5" cy="621.8" rx="2.5" ry="2.5" fill="#1664ff"/>
<ellipse cx="206.3" cy="631.4" rx="2" ry="2" fill="#1664ff"/>
<ellipse cx="202.5" cy="637.0" rx="2.3" ry="2.3" fill="#1664ff"/>
<ellipse cx="243.7" cy="634.7" rx="2.8" ry="3.3" fill="#1664ff"/>
<ellipse cx="220.2" cy="649.6" rx="2.7" ry="2.5" fill="#1664ff"/>
<ellipse cx="224.5" cy="654.9" rx="3" ry="3" fill="#1664ff"/>
<ellipse cx="221.7" cy="660.2" rx="2" ry="3" fill="#1664ff"/>
<ellipse cx="226.6" cy="662.9" rx="2.5" ry="2.2" fill="#38b4ff"/>
<ellipse cx="269.1" cy="645.8" rx="2.2" ry="2.2" fill="#1664ff"/>
<ellipse cx="268.5" cy="650.4" rx="2.4" ry="2" fill="#1664ff"/>
<ellipse cx="288.8" cy="641.6" rx="2.2" ry="2" fill="#1664ff"/>
<ellipse cx="292.0" cy="644.7" rx="2.3" ry="2" fill="#1664ff"/>
<ellipse cx="292.3" cy="649.3" rx="3" ry="2.6" fill="#1664ff"/>
<ellipse cx="307.5" cy="639.3" rx="2.7" ry="2.6" fill="#1664ff"/>
<ellipse cx="306.2" cy="644.7" rx="2.2" ry="2.2" fill="#1664ff"/>
<ellipse cx="307.8" cy="650.7" rx="3.5" ry="2.7" fill="#1664ff"/>
<ellipse cx="243.4" cy="664.0" rx="2.8" ry="3" fill="#1664ff"/>
<ellipse cx="191.1" cy="672.4" rx="3" ry="2" fill="#1664ff"/>
<ellipse cx="192.6" cy="677.4" rx="2" ry="2.2" fill="#38b4ff"/>
<ellipse cx="178.8" cy="678.0" rx="3" ry="2.2" fill="#1664ff"/>
<ellipse cx="225.5" cy="689.8" rx="1.8" ry="2.3" fill="#1664ff"/>
<ellipse cx="232.1" cy="688.3" rx="2" ry="2.1" fill="#1664ff"/>
<ellipse cx="249.0" cy="689.3" rx="3" ry="2.7" fill="#1664ff"/>
<ellipse cx="255.9" cy="686.0" rx="3" ry="3.4" fill="#1664ff"/>
<ellipse cx="268.0" cy="686.8" rx="3.4" ry="2.8" fill="#1664ff"/>
<ellipse cx="265.4" cy="589.7" rx="3" ry="2.2" fill="#f858dc"/>
<ellipse cx="211.4" cy="602.3" rx="2.6" ry="2.6" fill="#f858dc"/>
<ellipse cx="226.0" cy="601.4" rx="2.4" ry="2.7" fill="#f858dc"/>
<ellipse cx="269.1" cy="645.5" rx="2.2" ry="2.2" fill="#f858dc"/>
<ellipse cx="268.5" cy="649.9" rx="2.4" ry="1.8" fill="#f858dc"/>
<ellipse cx="307.5" cy="650.1" rx="3.5" ry="2.7" fill="#f858dc"/>
<ellipse cx="231.9" cy="688.3" rx="2" ry="2.1" fill="#f858dc"/>
</g></g>
<rect x="317.1" y="371" width="141.50" height="105.60" fill="#000"/>
<g clip-path="url(#c20)"><g filter="url(#bl)">
<ellipse cx="416.5" cy="385.7" rx="2.5" ry="2.5" fill="#ff1a0a"/>
<ellipse cx="381.1" cy="394.5" rx="3" ry="3" fill="#ff1a0a"/>
<ellipse cx="336.5" cy="402.4" rx="2.3" ry="3.3" fill="#ff1a0a"/>
<ellipse cx="379.8" cy="421.1" rx="2.7" ry="2.9" fill="#ff1a0a"/>
<ellipse cx="327.7" cy="427.4" rx="2.3" ry="3.3" fill="#ff1a0a"/>
<ellipse cx="413.4" cy="446.1" rx="2.6" ry="2.6" fill="#ff1a0a"/>
<ellipse cx="363.4" cy="454.0" rx="2.7" ry="2.7" fill="#ff1a0a"/>
<ellipse cx="362.6" cy="462.8" rx="2.6" ry="2.3" fill="#ff1a0a"/>
</g></g>
<rect x="317.1" y="479.2" width="141.50" height="105.60" fill="#000"/>
<g clip-path="url(#c21)"><g filter="url(#bl)">
<ellipse cx="337.6" cy="481.5" rx="2.5" ry="2" fill="#0a44f2"/>
<ellipse cx="330.8" cy="502.4" rx="3.4" ry="2.7" fill="#0630c0"/>
<ellipse cx="347.4" cy="498.9" rx="2.2" ry="2.7" fill="#0a44f2"/>
<ellipse cx="345.2" cy="507.7" rx="2.2" ry="2.7" fill="#0a44f2"/>
<ellipse cx="336.5" cy="510.6" rx="2.3" ry="3.3" fill="#0a44f2"/>
<ellipse cx="328.0" cy="515.9" rx="2.7" ry="3" fill="#0a44f2"/>
<ellipse cx="371.0" cy="502.3" rx="3" ry="2.8" fill="#0a44f2"/>
<ellipse cx="381.1" cy="502.7" rx="3" ry="3" fill="#0a44f2"/>
<ellipse cx="401.3" cy="503.2" rx="2.6" ry="2.2" fill="#1664ff"/>
<ellipse cx="416.5" cy="493.9" rx="2.5" ry="2.5" fill="#0a44f2"/>
<ellipse cx="422.5" cy="488.6" rx="2" ry="2" fill="#1664ff"/>
<ellipse cx="423.3" cy="492.1" rx="2" ry="2" fill="#1664ff"/>
<ellipse cx="418.0" cy="513.6" rx="2.6" ry="2" fill="#0a44f2"/>
<ellipse cx="419.8" cy="516.7" rx="2.6" ry="1.8" fill="#1664ff"/>
<ellipse cx="417.2" cy="528.5" rx="2.5" ry="2" fill="#1664ff"/>
<ellipse cx="455.9" cy="495.9" rx="2" ry="1.8" fill="#1664ff"/>
<ellipse cx="345.6" cy="532.0" rx="3.4" ry="2.8" fill="#0630c0"/>
<ellipse cx="327.7" cy="535.6" rx="2.3" ry="3.3" fill="#0630c0"/>
<ellipse cx="331.8" cy="541.1" rx="3" ry="2.3" fill="#0a44f2"/>
<ellipse cx="375.5" cy="524.3" rx="1.8" ry="1.8" fill="#1664ff"/>
<ellipse cx="374.7" cy="528.5" rx="2" ry="2" fill="#1664ff"/>
<ellipse cx="380.1" cy="529.3" rx="2.7" ry="2.9" fill="#0a44f2"/>
<ellipse cx="371.3" cy="535.3" rx="2.8" ry="2.2" fill="#0a44f2"/>
<ellipse cx="367.9" cy="542.9" rx="2.3" ry="2.7" fill="#1664ff"/>
<ellipse cx="372.5" cy="542.2" rx="2" ry="2.7" fill="#0a44f2"/>
<ellipse cx="362.3" cy="548.5" rx="2.7" ry="3" fill="#0a44f2"/>
<ellipse cx="395.5" cy="547.8" rx="2.6" ry="3.2" fill="#1664ff"/>
<ellipse cx="441.2" cy="536.5" rx="2.6" ry="1.8" fill="#0a44f2"/>
<ellipse cx="413.4" cy="554.3" rx="2.6" ry="2.6" fill="#0630c0"/>
<ellipse cx="411.1" cy="558.1" rx="1.5" ry="1.5" fill="#0630c0"/>
<ellipse cx="416.5" cy="559.6" rx="1.5" ry="1.5" fill="#0630c0"/>
<ellipse cx="456.4" cy="556.6" rx="1.5" ry="2.7" fill="#0a44f2"/>
<ellipse cx="363.4" cy="562.2" rx="2.7" ry="2.7" fill="#0a44f2"/>
<ellipse cx="355.0" cy="568.4" rx="2.5" ry="2.5" fill="#1664ff"/>
<ellipse cx="362.6" cy="571.3" rx="2.6" ry="2.4" fill="#1664ff"/>
<ellipse cx="332.7" cy="571.3" rx="1.8" ry="2.4" fill="#0a44f2"/>
<ellipse cx="331.8" cy="578.1" rx="2" ry="2.4" fill="#0a44f2"/>
<ellipse cx="336.8" cy="581.6" rx="2.3" ry="2" fill="#0a44f2"/>
<ellipse cx="372.5" cy="580.5" rx="2.3" ry="3" fill="#1664ff"/>
<ellipse cx="432.4" cy="566.0" rx="2.7" ry="2.7" fill="#1664ff"/>
</g></g>
<rect x="317.1" y="587.4" width="141.50" height="105.40" fill="#000"/>
<g clip-path="url(#c22)"><g filter="url(#bl)">
<ellipse cx="337.6" cy="589.7" rx="2.5" ry="2" fill="#0a44f2"/>
<ellipse cx="330.8" cy="610.6" rx="3.4" ry="2.7" fill="#0630c0"/>
<ellipse cx="347.4" cy="607.1" rx="2.2" ry="2.7" fill="#0a44f2"/>
<ellipse cx="345.2" cy="615.9" rx="2.2" ry="2.7" fill="#0a44f2"/>
<ellipse cx="336.5" cy="618.8" rx="2.3" ry="3.3" fill="#0a44f2"/>
<ellipse cx="328.0" cy="624.1" rx="2.7" ry="3" fill="#0a44f2"/>
<ellipse cx="371.0" cy="610.5" rx="3" ry="2.8" fill="#0a44f2"/>
<ellipse cx="381.1" cy="610.9" rx="3" ry="3" fill="#0a44f2"/>
<ellipse cx="401.3" cy="611.4" rx="2.6" ry="2.2" fill="#1664ff"/>
<ellipse cx="416.5" cy="602.1" rx="2.5" ry="2.5" fill="#0a44f2"/>
<ellipse cx="422.5" cy="596.8" rx="2" ry="2" fill="#1664ff"/>
<ellipse cx="423.3" cy="600.3" rx="2" ry="2" fill="#1664ff"/>
<ellipse cx="418.0" cy="621.8" rx="2.6" ry="2" fill="#0a44f2"/>
<ellipse cx="419.8" cy="624.9" rx="2.6" ry="1.8" fill="#1664ff"/>
<ellipse cx="417.2" cy="636.7" rx="2.5" ry="2" fill="#1664ff"/>
<ellipse cx="455.9" cy="604.1" rx="2" ry="1.8" fill="#1664ff"/>
<ellipse cx="345.6" cy="640.2" rx="3.4" ry="2.8" fill="#0630c0"/>
<ellipse cx="327.7" cy="643.8" rx="2.3" ry="3.3" fill="#0630c0"/>
<ellipse cx="331.8" cy="649.3" rx="3" ry="2.3" fill="#0a44f2"/>
<ellipse cx="375.5" cy="632.5" rx="1.8" ry="1.8" fill="#1664ff"/>
<ellipse cx="374.7" cy="636.7" rx="2" ry="2" fill="#1664ff"/>
<ellipse cx="380.1" cy="637.5" rx="2.7" ry="2.9" fill="#0a44f2"/>
<ellipse cx="371.3" cy="643.5" rx="2.8" ry="2.2" fill="#0a44f2"/>
<ellipse cx="367.9" cy="651.1" rx="2.3" ry="2.7" fill="#1664ff"/>
<ellipse cx="372.5" cy="650.4" rx="2" ry="2.7" fill="#0a44f2"/>
<ellipse cx="362.3" cy="656.7" rx="2.7" ry="3" fill="#0a44f2"/>
<ellipse cx="395.5" cy="656.0" rx="2.6" ry="3.2" fill="#1664ff"/>
<ellipse cx="441.2" cy="644.7" rx="2.6" ry="1.8" fill="#0a44f2"/>
<ellipse cx="413.4" cy="662.5" rx="2.6" ry="2.6" fill="#0630c0"/>
<ellipse cx="411.1" cy="666.3" rx="1.5" ry="1.5" fill="#0630c0"/>
<ellipse cx="416.5" cy="667.8" rx="1.5" ry="1.5" fill="#0630c0"/>
<ellipse cx="456.4" cy="664.8" rx="1.5" ry="2.7" fill="#0a44f2"/>
<ellipse cx="363.4" cy="670.4" rx="2.7" ry="2.7" fill="#0a44f2"/>
<ellipse cx="355.0" cy="676.6" rx="2.5" ry="2.5" fill="#1664ff"/>
<ellipse cx="362.6" cy="679.5" rx="2.6" ry="2.4" fill="#1664ff"/>
<ellipse cx="332.7" cy="679.5" rx="1.8" ry="2.4" fill="#0a44f2"/>
<ellipse cx="331.8" cy="686.3" rx="2" ry="2.4" fill="#0a44f2"/>
<ellipse cx="336.8" cy="689.8" rx="2.3" ry="2" fill="#0a44f2"/>
<ellipse cx="372.5" cy="688.7" rx="2.3" ry="3" fill="#1664ff"/>
<ellipse cx="432.4" cy="674.2" rx="2.7" ry="2.7" fill="#1664ff"/>
<ellipse cx="416.5" cy="602.1" rx="2.5" ry="2.5" fill="#f858dc"/>
<ellipse cx="381.1" cy="610.9" rx="3" ry="3" fill="#f858dc"/>
<ellipse cx="336.5" cy="618.8" rx="2.3" ry="3.3" fill="#f858dc"/>
<ellipse cx="379.8" cy="637.5" rx="2.7" ry="2.9" fill="#f858dc"/>
<ellipse cx="327.7" cy="643.8" rx="2.3" ry="3.3" fill="#f858dc"/>
<ellipse cx="413.4" cy="662.5" rx="2.6" ry="2.6" fill="#f858dc"/>
<ellipse cx="363.4" cy="670.4" rx="2.7" ry="2.7" fill="#f858dc"/>
<ellipse cx="362.6" cy="679.2" rx="2.6" ry="2.3" fill="#f858dc"/>
</g></g>
<rect x="461" y="371" width="141.30" height="105.60" fill="#000"/>
<g clip-path="url(#c30)"><g filter="url(#bl)">
<ellipse cx="555.4" cy="372.8" rx="3" ry="2" fill="#ff1a0a"/>
<ellipse cx="543.7" cy="386.9" rx="2.4" ry="2.6" fill="#ff1a0a"/>
<ellipse cx="482.7" cy="391.2" rx="2.2" ry="2.2" fill="#ff1a0a"/>
<ellipse cx="492.6" cy="407.1" rx="2.5" ry="2.5" fill="#ff1a0a"/>
<ellipse cx="523.2" cy="411.5" rx="3.4" ry="2.6" fill="#ff1a0a"/>
<ellipse cx="552.8" cy="414.2" rx="3" ry="3.5" fill="#ff1a0a"/>
<ellipse cx="577.4" cy="409.4" rx="2.6" ry="3.4" fill="#ff1a0a"/>
<ellipse cx="591.5" cy="400.9" rx="2.7" ry="2.2" fill="#ff1a0a"/>
<ellipse cx="563.7" cy="422.9" rx="1.8" ry="3" fill="#ff1a0a"/>
<ellipse cx="571.4" cy="421.1" rx="2.7" ry="2.8" fill="#ff1a0a"/>
<ellipse cx="567.6" cy="429.0" rx="3.2" ry="3.8" fill="#ff1a0a"/>
<ellipse cx="478.9" cy="433.2" rx="3.3" ry="4" fill="#ff1a0a"/>
<ellipse cx="502.3" cy="440.3" rx="2.6" ry="2" fill="#ff1a0a"/>
<ellipse cx="506.1" cy="443.8" rx="2.6" ry="2" fill="#ff1a0a"/>
<ellipse cx="553.8" cy="439.6" rx="4" ry="3.7" fill="#ff1a0a"/>
<ellipse cx="561.6" cy="439.6" rx="2.8" ry="3" fill="#ff1a0a"/>
<ellipse cx="591.8" cy="448.4" rx="2" ry="2.6" fill="#ff1a0a"/>
<ellipse cx="461.3" cy="412.3" rx="1" ry="2" fill="#ff1a0a"/>
</g></g>
<rect x="461" y="479.2" width="141.30" height="105.60" fill="#000"/>
<g clip-path="url(#c31)"><g filter="url(#bl)">
<ellipse cx="476.6" cy="483.0" rx="2" ry="2.4" fill="#1664ff"/>
<ellipse cx="489.5" cy="494.7" rx="3.3" ry="2.7" fill="#1664ff"/>
<ellipse cx="483.0" cy="499.7" rx="2.2" ry="2.4" fill="#0a44f2"/>
<ellipse cx="520.2" cy="497.1" rx="1.8" ry="2.2" fill="#0a44f2"/>
<ellipse cx="522.9" cy="500.1" rx="1.8" ry="2.2" fill="#0a44f2"/>
<ellipse cx="492.6" cy="515.6" rx="2.4" ry="2.4" fill="#0a44f2"/>
<ellipse cx="517.1" cy="514.1" rx="3.2" ry="2.2" fill="#1664ff"/>
<ellipse cx="523.2" cy="519.9" rx="3.4" ry="2.6" fill="#0a44f2"/>
<ellipse cx="543.7" cy="495.4" rx="2.4" ry="2.4" fill="#0a44f2"/>
<ellipse cx="547.8" cy="503.8" rx="2.4" ry="1.8" fill="#1664ff"/>
<ellipse cx="559.3" cy="502.0" rx="2" ry="1.6" fill="#38b4ff"/>
<ellipse cx="562.6" cy="506.5" rx="1.6" ry="1.8" fill="#38b4ff"/>
<ellipse cx="570.7" cy="503.5" rx="3" ry="3.2" fill="#0a44f2"/>
<ellipse cx="573.3" cy="489.4" rx="3" ry="2.2" fill="#1664ff"/>
<ellipse cx="596.0" cy="483.4" rx="2.2" ry="2.2" fill="#1664ff"/>
<ellipse cx="555.4" cy="481.0" rx="2.6" ry="1.8" fill="#0a44f2"/>
<ellipse cx="582.4" cy="510.6" rx="2.2" ry="2.7" fill="#0a44f2"/>
<ellipse cx="591.5" cy="509.2" rx="2.7" ry="2.2" fill="#0a44f2"/>
<ellipse cx="577.4" cy="517.6" rx="2.6" ry="3.4" fill="#0630c0"/>
<ellipse cx="553.1" cy="522.7" rx="3" ry="3.5" fill="#0630c0"/>
<ellipse cx="461.5" cy="520.5" rx="1" ry="2" fill="#0a44f2"/>
<ellipse cx="563.7" cy="531.5" rx="1.8" ry="3" fill="#0a44f2"/>
<ellipse cx="571.7" cy="529.6" rx="2.7" ry="2.8" fill="#0630c0"/>
<ellipse cx="568.0" cy="537.6" rx="3.2" ry="3.8" fill="#0630c0"/>
<ellipse cx="520.2" cy="537.1" rx="2.8" ry="2.8" fill="#0a44f2"/>
<ellipse cx="478.9" cy="541.4" rx="3.3" ry="4" fill="#0630c0"/>
<ellipse cx="559.9" cy="541.4" rx="2.2" ry="2.4" fill="#0a44f2"/>
<ellipse cx="554.0" cy="548.2" rx="4" ry="3.7" fill="#0630c0"/>
<ellipse cx="561.6" cy="547.8" rx="2.8" ry="3" fill="#0a44f2"/>
<ellipse cx="574.5" cy="550.2" rx="2.4" ry="2.4" fill="#0a44f2"/>
<ellipse cx="597.8" cy="540.6" rx="1.8" ry="2" fill="#0a44f2"/>
<ellipse cx="502.3" cy="548.7" rx="2.6" ry="2" fill="#1664ff"/>
<ellipse cx="506.2" cy="552.0" rx="2.6" ry="2" fill="#1664ff"/>
<ellipse cx="527.3" cy="550.8" rx="2" ry="2.2" fill="#1664ff"/>
<ellipse cx="535.8" cy="552.8" rx="2" ry="2.2" fill="#1664ff"/>
<ellipse cx="591.8" cy="557.0" rx="1.8" ry="2.4" fill="#0a44f2"/>
<ellipse cx="466.8" cy="554.6" rx="1.5" ry="2" fill="#0a44f2"/>
<ellipse cx="463.0" cy="559.1" rx="1.5" ry="2" fill="#0a44f2"/>
<ellipse cx="525.9" cy="566.4" rx="2.8" ry="3" fill="#0a44f2"/>
<ellipse cx="520.9" cy="572.5" rx="2.6" ry="3.3" fill="#0a44f2"/>
<ellipse cx="545.6" cy="576.0" rx="2.8" ry="2.8" fill="#0630c0"/>
</g></g>
<rect x="461" y="587.4" width="141.30" height="105.40" fill="#000"/>
<g clip-path="url(#c32)"><g filter="url(#bl)">
<ellipse cx="476.6" cy="591.2" rx="2" ry="2.4" fill="#1664ff"/>
<ellipse cx="489.5" cy="602.9" rx="3.3" ry="2.7" fill="#1664ff"/>
<ellipse cx="483.0" cy="607.9" rx="2.2" ry="2.4" fill="#0a44f2"/>
<ellipse cx="520.2" cy="605.3" rx="1.8" ry="2.2" fill="#0a44f2"/>
<ellipse cx="522.9" cy="608.3" rx="1.8" ry="2.2" fill="#0a44f2"/>
<ellipse cx="492.6" cy="623.8" rx="2.4" ry="2.4" fill="#0a44f2"/>
<ellipse cx="517.1" cy="622.3" rx="3.2" ry="2.2" fill="#1664ff"/>
<ellipse cx="523.2" cy="628.1" rx="3.4" ry="2.6" fill="#0a44f2"/>
<ellipse cx="543.7" cy="603.6" rx="2.4" ry="2.4" fill="#0a44f2"/>
<ellipse cx="547.8" cy="612.0" rx="2.4" ry="1.8" fill="#1664ff"/>
<ellipse cx="559.3" cy="610.2" rx="2" ry="1.6" fill="#38b4ff"/>
<ellipse cx="562.6" cy="614.7" rx="1.6" ry="1.8" fill="#38b4ff"/>
<ellipse cx="570.7" cy="611.7" rx="3" ry="3.2" fill="#0a44f2"/>
<ellipse cx="573.3" cy="597.6" rx="3" ry="2.2" fill="#1664ff"/>
<ellipse cx="596.0" cy="591.6" rx="2.2" ry="2.2" fill="#1664ff"/>
<ellipse cx="555.4" cy="589.2" rx="2.6" ry="1.8" fill="#0a44f2"/>
<ellipse cx="582.4" cy="618.8" rx="2.2" ry="2.7" fill="#0a44f2"/>
<ellipse cx="591.5" cy="617.4" rx="2.7" ry="2.2" fill="#0a44f2"/>
<ellipse cx="577.4" cy="625.8" rx="2.6" ry="3.4" fill="#0630c0"/>
<ellipse cx="553.1" cy="630.9" rx="3" ry="3.5" fill="#0630c0"/>
<ellipse cx="461.5" cy="628.7" rx="1" ry="2" fill="#0a44f2"/>
<ellipse cx="563.7" cy="639.7" rx="1.8" ry="3" fill="#0a44f2"/>
<ellipse cx="571.7" cy="637.8" rx="2.7" ry="2.8" fill="#0630c0"/>
<ellipse cx="568.0" cy="645.8" rx="3.2" ry="3.8" fill="#0630c0"/>
<ellipse cx="520.2" cy="645.3" rx="2.8" ry="2.8" fill="#0a44f2"/>
<ellipse cx="478.9" cy="649.6" rx="3.3" ry="4" fill="#0630c0"/>
<ellipse cx="559.9" cy="649.6" rx="2.2" ry="2.4" fill="#0a44f2"/>
<ellipse cx="554.0" cy="656.4" rx="4" ry="3.7" fill="#0630c0"/>
<ellipse cx="561.6" cy="656.0" rx="2.8" ry="3" fill="#0a44f2"/>
<ellipse cx="574.5" cy="658.4" rx="2.4" ry="2.4" fill="#0a44f2"/>
<ellipse cx="597.8" cy="648.8" rx="1.8" ry="2" fill="#0a44f2"/>
<ellipse cx="502.3" cy="656.9" rx="2.6" ry="2" fill="#1664ff"/>
<ellipse cx="506.2" cy="660.2" rx="2.6" ry="2" fill="#1664ff"/>
<ellipse cx="527.3" cy="659.0" rx="2" ry="2.2" fill="#1664ff"/>
<ellipse cx="535.8" cy="661.0" rx="2" ry="2.2" fill="#1664ff"/>
<ellipse cx="591.8" cy="665.2" rx="1.8" ry="2.4" fill="#0a44f2"/>
<ellipse cx="466.8" cy="662.8" rx="1.5" ry="2" fill="#0a44f2"/>
<ellipse cx="463.0" cy="667.3" rx="1.5" ry="2" fill="#0a44f2"/>
<ellipse cx="525.9" cy="674.6" rx="2.8" ry="3" fill="#0a44f2"/>
<ellipse cx="520.9" cy="680.7" rx="2.6" ry="3.3" fill="#0a44f2"/>
<ellipse cx="545.6" cy="684.2" rx="2.8" ry="2.8" fill="#0630c0"/>
<ellipse cx="555.4" cy="589.2" rx="3" ry="2" fill="#f858dc"/>
<ellipse cx="543.7" cy="603.3" rx="2.4" ry="2.6" fill="#f858dc"/>
<ellipse cx="482.7" cy="607.6" rx="2.2" ry="2.2" fill="#f858dc"/>
<ellipse cx="492.6" cy="623.5" rx="2.5" ry="2.5" fill="#f858dc"/>
<ellipse cx="523.2" cy="627.9" rx="3.4" ry="2.6" fill="#f858dc"/>
<ellipse cx="552.8" cy="630.6" rx="3" ry="3.5" fill="#f858dc"/>
<ellipse cx="577.4" cy="625.8" rx="2.6" ry="3.4" fill="#f858dc"/>
<ellipse cx="591.5" cy="617.3" rx="2.7" ry="2.2" fill="#f858dc"/>
<ellipse cx="563.7" cy="639.3" rx="1.8" ry="3" fill="#f858dc"/>
<ellipse cx="571.4" cy="637.5" rx="2.7" ry="2.8" fill="#f858dc"/>
<ellipse cx="567.6" cy="645.4" rx="3.2" ry="3.8" fill="#f858dc"/>
<ellipse cx="478.9" cy="649.6" rx="3.3" ry="4" fill="#f858dc"/>
<ellipse cx="502.3" cy="656.7" rx="2.6" ry="2" fill="#f858dc"/>
<ellipse cx="506.1" cy="660.2" rx="2.6" ry="2" fill="#f858dc"/>
<ellipse cx="553.8" cy="656.0" rx="4" ry="3.7" fill="#f858dc"/>
<ellipse cx="561.6" cy="656.0" rx="2.8" ry="3" fill="#f858dc"/>
<ellipse cx="591.8" cy="664.8" rx="2" ry="2.6" fill="#f858dc"/>
<ellipse cx="461.3" cy="628.7" rx="1" ry="2" fill="#f858dc"/>
</g></g>
<text x="103.50" y="365.00" font-size="16" font-weight="bold" text-anchor="middle" fill="#000" >Control</text>
<text x="246.00" y="365.00" font-size="16" font-weight="bold" text-anchor="middle" fill="#000" >OGD</text>
<text x="383.90" y="365.00" font-size="16" font-weight="bold" text-anchor="middle" fill="#000" >OGD + mimics-ctrl</text>
<text x="535.80" y="365.00" font-size="16" font-weight="bold" text-anchor="middle" fill="#000" >OGD + miR-mimics</text>
<text transform="translate(23.5,418.10) rotate(-90)" font-size="16" font-weight="bold" text-anchor="middle">Ki67</text>
<text transform="translate(23.5,532.70) rotate(-90)" font-size="16" font-weight="bold" text-anchor="middle">DAPI</text>
<text transform="translate(23.5,639.50) rotate(-90)" font-size="16" font-weight="bold" text-anchor="middle">Merge</text>
<text x="599.50" y="679.70" font-size="12" font-weight="normal" text-anchor="end" fill="#e0e0e0" >100 µm</text>
<line x1="579" y1="685.2" x2="597.5" y2="685.2" stroke="#e0e0e0" stroke-width="2"/>
</g></svg></body></html>
